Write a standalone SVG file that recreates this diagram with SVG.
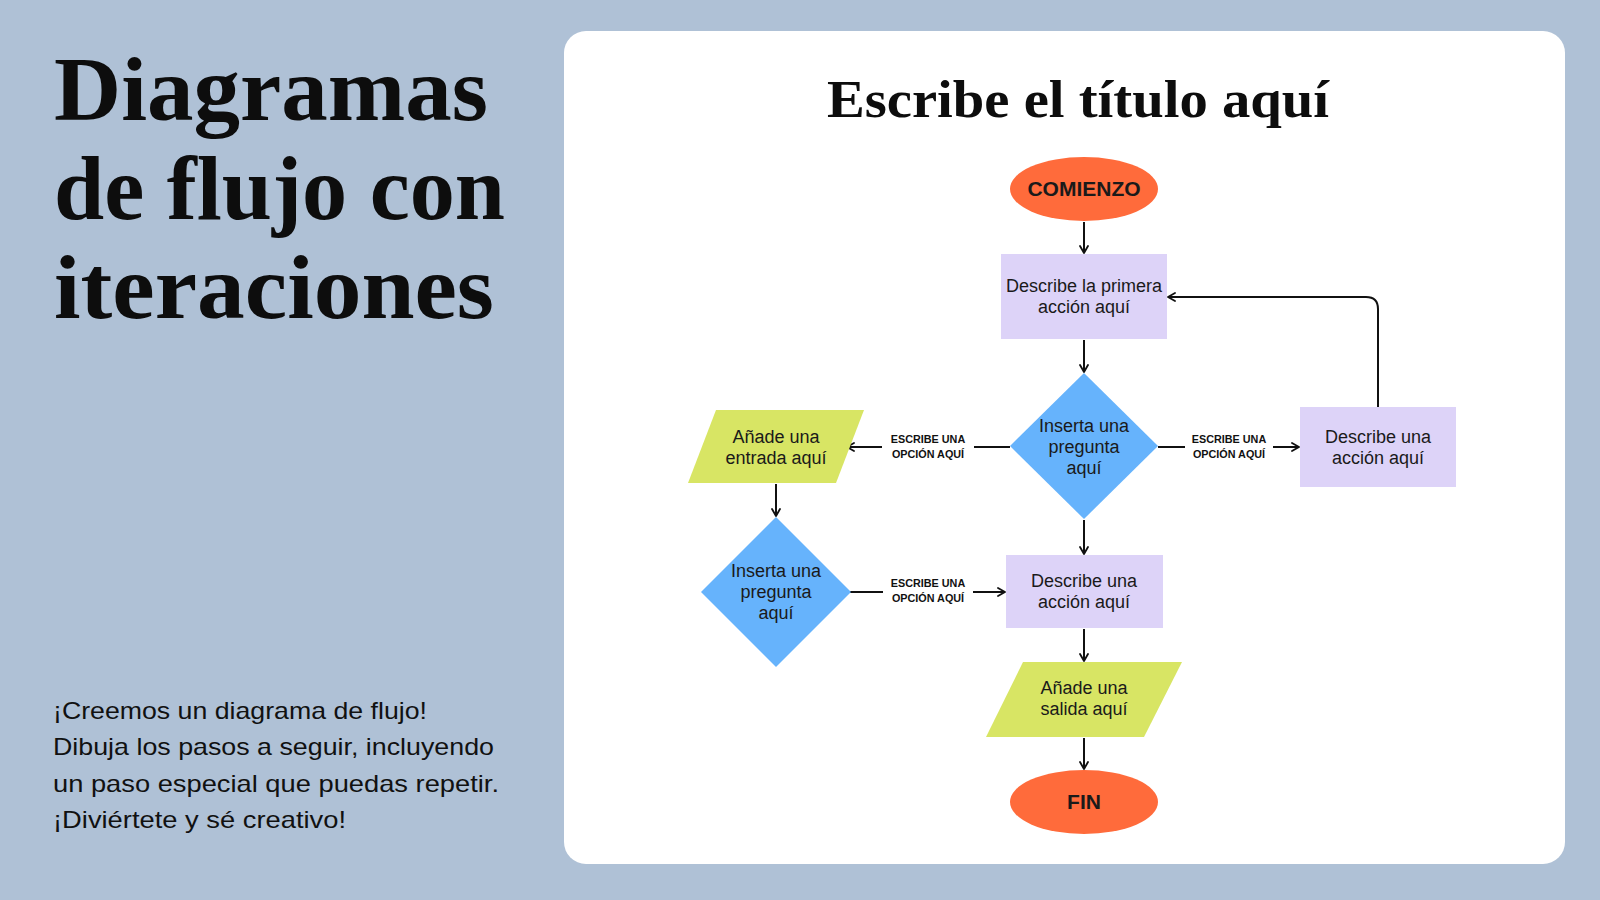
<svg xmlns="http://www.w3.org/2000/svg" width="1600" height="900" viewBox="0 0 1600 900">
<defs>
<marker id="arr" viewBox="0 0 10 10" refX="9" refY="5" markerWidth="10" markerHeight="10" markerUnits="userSpaceOnUse" orient="auto">
<path d="M2,1 L9,5 L2,9" fill="none" stroke="#111" stroke-width="1.8" stroke-linecap="round" stroke-linejoin="round"/>
</marker>
</defs>
<style>
.bigt{font-family:"Liberation Serif",serif;font-weight:bold;fill:#0d0d0d}
.body{font-family:"Liberation Sans",Arial,sans-serif;fill:#111}
.node{font-family:"Liberation Sans",Arial,sans-serif;font-size:18px;fill:#1a1a1a;text-anchor:middle}
.term{font-family:"Liberation Sans",Arial,sans-serif;font-size:21px;font-weight:bold;fill:#1a1a1a;text-anchor:middle}
.lbl{font-family:"Liberation Sans",Arial,sans-serif;font-size:10.8px;font-weight:bold;fill:#111;text-anchor:middle}
.conn{fill:none;stroke:#111;stroke-width:2}
.oval{fill:#FF6B3B}
.rectn{fill:#DDD3F8}
.dia{fill:#66B3FC}
.para{fill:#D8E564}
</style>
<rect width="1600" height="900" fill="#AFC1D6"/>
<rect x="564" y="31" width="1001" height="833" rx="22" fill="#FFFFFF"/>

<g id="left-title">
<text class="bigt" font-size="92" x="54" y="120" textLength="434" lengthAdjust="spacingAndGlyphs">Diagramas</text>
<text class="bigt" font-size="92" x="54" y="219" textLength="451" lengthAdjust="spacingAndGlyphs">de flujo con</text>
<text class="bigt" font-size="92" x="54" y="318" textLength="440" lengthAdjust="spacingAndGlyphs">iteraciones</text>
</g>
<g id="left-desc" class="body" font-size="24">
<text x="53" y="719" textLength="374" lengthAdjust="spacingAndGlyphs">¡Creemos un diagrama de flujo!</text>
<text x="53" y="755" textLength="441" lengthAdjust="spacingAndGlyphs">Dibuja los pasos a seguir, incluyendo</text>
<text x="53" y="792" textLength="446" lengthAdjust="spacingAndGlyphs">un paso especial que puedas repetir.</text>
<text x="53" y="828" textLength="293" lengthAdjust="spacingAndGlyphs">¡Diviértete y sé creativo!</text>
</g>
<text id="card-title" class="bigt" font-size="52" x="1078" y="117" text-anchor="middle" textLength="502" lengthAdjust="spacingAndGlyphs">Escribe el título aquí</text>

<g id="connectors">
<line class="conn" x1="1084" y1="222" x2="1084" y2="253" marker-end="url(#arr)"/>
<line class="conn" x1="1084" y1="340" x2="1084" y2="372" marker-end="url(#arr)"/>
<line class="conn" x1="1084" y1="520" x2="1084" y2="554" marker-end="url(#arr)"/>
<line class="conn" x1="1084" y1="629" x2="1084" y2="661" marker-end="url(#arr)"/>
<line class="conn" x1="1084" y1="738" x2="1084" y2="769" marker-end="url(#arr)"/>
<line class="conn" x1="776" y1="484" x2="776" y2="516" marker-end="url(#arr)"/>
<line class="conn" x1="1010" y1="447" x2="974" y2="447"/>
<line class="conn" x1="882" y1="447" x2="847" y2="447" marker-end="url(#arr)"/>
<line class="conn" x1="1158" y1="447" x2="1185" y2="447"/>
<line class="conn" x1="1273" y1="447" x2="1299" y2="447" marker-end="url(#arr)"/>
<line class="conn" x1="850" y1="592" x2="883" y2="592"/>
<line class="conn" x1="973" y1="592" x2="1005" y2="592" marker-end="url(#arr)"/>
<path class="conn" d="M1378,407 L1378,309 Q1378,297 1366,297 L1168,297" marker-end="url(#arr)"/>
<text class="lbl" x="928" y="443">ESCRIBE UNA</text>
<text class="lbl" x="928" y="458">OPCIÓN AQUÍ</text>
<text class="lbl" x="1229" y="443">ESCRIBE UNA</text>
<text class="lbl" x="1229" y="458">OPCIÓN AQUÍ</text>
<text class="lbl" x="928" y="587">ESCRIBE UNA</text>
<text class="lbl" x="928" y="602">OPCIÓN AQUÍ</text>
</g>

<g id="start">
<ellipse class="oval" cx="1084" cy="189" rx="74" ry="32"/>
<text class="term" x="1084" y="196">COMIENZO</text>
</g>
<g id="action1">
<rect class="rectn" x="1001" y="254" width="166" height="85"/>
<text class="node" x="1084" y="292">Describe la primera</text>
<text class="node" x="1084" y="313">acción aquí</text>
</g>
<g id="question1">
<polygon class="dia" points="1084,373 1158,446 1084,519 1010,446"/>
<text class="node" x="1084" y="432">Inserta una</text>
<text class="node" x="1084" y="453">pregunta</text>
<text class="node" x="1084" y="474">aquí</text>
</g>
<g id="action-loop">
<rect class="rectn" x="1300" y="407" width="156" height="80"/>
<text class="node" x="1378" y="443">Describe una</text>
<text class="node" x="1378" y="464">acción aquí</text>
</g>
<g id="input">
<polygon class="para" points="716,410 864,410 836,483 688,483"/>
<text class="node" x="776" y="443">Añade una</text>
<text class="node" x="776" y="464">entrada aquí</text>
</g>
<g id="question2">
<polygon class="dia" points="776,517 851,592 776,667 701,592"/>
<text class="node" x="776" y="577">Inserta una</text>
<text class="node" x="776" y="598">pregunta</text>
<text class="node" x="776" y="619">aquí</text>
</g>
<g id="action2">
<rect class="rectn" x="1006" y="555" width="157" height="73"/>
<text class="node" x="1084" y="587">Describe una</text>
<text class="node" x="1084" y="608">acción aquí</text>
</g>
<g id="output">
<polygon class="para" points="1023,662 1182,662 1144,737 986,737"/>
<text class="node" x="1084" y="694">Añade una</text>
<text class="node" x="1084" y="715">salida aquí</text>
</g>
<g id="end">
<ellipse class="oval" cx="1084" cy="802" rx="74" ry="32"/>
<text class="term" x="1084" y="809">FIN</text>
</g>
</svg>
